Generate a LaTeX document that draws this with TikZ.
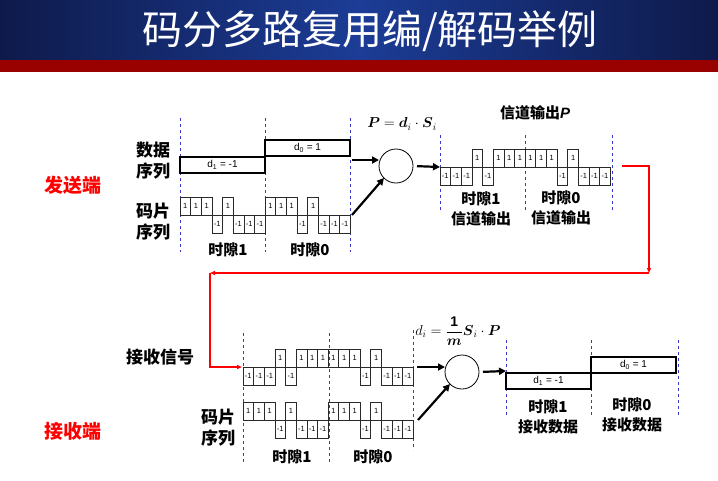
\documentclass[tikz,border=0pt]{standalone}
\usepackage{fontspec}
\usepackage{amsmath}
\setmainfont{Liberation Sans}
\newfontfamily\cjk{Noto Sans CJK SC}
\usetikzlibrary{positioning, arrows.meta, calc}
\definecolor{titleblue}{HTML}{1C3C96}
\definecolor{titlenavy}{HTML}{0E1A4A}
\definecolor{barred}{HTML}{990000}
\definecolor{slotblue}{HTML}{3A3ACC}
\definecolor{chipgray}{HTML}{2A2A2A}
\definecolor{sidered}{HTML}{FF0000}

% chip width and one row of chips: name, x, baseline, values
\newcommand\cw{10.65}
\newcommand\chiprow[4]{%
  \foreach \v [count=\k from 0] in {#4}{%
    \draw[chipbox] ({#2+\k*\cw},#3) rectangle ++(\cw,{-18*\v});
    \node[chiptxt] (#1-\k) at ({#2+(\k+0.5)*\cw},{#3-9*\v}) {\v};}}

\tikzset{
  chipbox/.style={draw=chipgray, line width=0.8pt},
  chiptxt/.style={font=\fontsize{7.5}{7.5}\selectfont, inner sep=0pt},
  databox/.style={draw, line width=1.2pt, inner sep=0pt, outer sep=0pt,
    minimum width=85pt, minimum height=16pt, anchor=north west,
    font=\fontsize{10}{10}\selectfont},
  slotline/.style={draw=slotblue, dashed, line width=0.7pt},
  lbl/.style={font={\cjk\bfseries\fontsize{15}{20}\selectfont}, align=center, inner sep=0pt},
  biglbl/.style={font={\cjk\bfseries\fontsize{17}{21}\selectfont}, align=center, inner sep=0pt},
  sidelbl/.style={font={\cjk\bfseries\fontsize{19}{21}\selectfont}, text=sidered, inner sep=0pt},
  mixer/.style={draw, circle, minimum size=34pt, line width=0.8pt, outer sep=0pt},
  bigarrow/.style={line width=2.2pt, -{Triangle[length=7pt,width=7pt]}},
  redarrow/.style={draw=sidered, line width=1.2pt, -{Triangle[length=5pt,width=4pt]}}
}

\begin{document}
\begin{tikzpicture}[x=1pt, y=-1pt]
  \useasboundingbox (0,0) rectangle (718,480);

  % title bar
  \shade[left color=titlenavy, right color=titlenavy, middle color=titleblue]
    (0,0) rectangle (718,60);
  \fill[barred] (0,60) rectangle (718,72);
  \node[font={\cjk\fontsize{40}{40}\selectfont}, text=white] (title) at (370,31)
    {码分多路复用编/解码举例};

  % ---- sender ----
  \foreach \x in {180,265,350} \draw[slotline] (\x,118) -- (\x,252);
  \foreach \x in {440,525,612} \draw[slotline] (\x,135) -- (\x,210);

  \node[databox] (d1T) at (180,157) {d\textsubscript{1} = -1};
  \node[databox] (d0T) at (265,140) {d\textsubscript{0} = 1};
  \chiprow{sT}{180}{215}{1,1,1,-1,1,-1,-1,-1,1,1,1,-1,1,-1,-1,-1}
  \chiprow{ch}{440}{167}{-1,-1,-1,1,-1,1,1,1,1,1,1,-1,1,-1,-1,-1}

  \node[biglbl] (dataT) at (153,161) {数据\\序列};
  \node[biglbl] (chipT) at (153,222) {码片\\序列};
  \node[lbl] (slot1T) at (228,250) {时隙1};
  \node[lbl] (slot0T) at (310,250) {时隙0};
  \node[sidelbl] (send) at (73,185) {发送端};

  \node[mixer] (mixT) at (396,166) {};
  \node[font=\fontsize{14}{16}\selectfont] (fmT) at (402,124)
    {$\boldsymbol{P}=\boldsymbol{d}_i\cdot\boldsymbol{S}_i$};
  \node[lbl] (outP) at (535,113) {信道输出{\fontspec{Liberation Sans}\bfseries\itshape P}};
  \node[lbl] (out1) at (481,209) {时隙1\\信道输出};
  \node[lbl] (out0) at (561,208) {时隙0\\信道输出};

  \coordinate (dT) at (352,160);
  \coordinate (sTe) at (352,215);
  \coordinate (chW) at (440,167);
  \draw[bigarrow] (dT) -- (dT -| mixT.west);
  \draw[bigarrow] (sTe) -- (mixT.south west);
  \draw[bigarrow, shorten <=4pt] (mixT.east) -- (chW);

  % channel to receiver
  \coordinate (chE) at (622,166);
  \coordinate (rc1) at (649,273);
  \coordinate (rc2) at (210,273);
  \coordinate (rxW) at (242,367);
  \draw[redarrow] (chE) -| (rc1);
  \draw[redarrow] (rc1) -- (rc2);
  \draw[redarrow] (rc2) |- (rxW);

  % ---- receiver ----
  \foreach \x in {243,329} \draw[slotline] (\x,333) -- (\x,462);
  \draw[slotline] (413,330) -- (413,450);
  \foreach \x in {506,591,678} \draw[slotline] (\x,340) -- (\x,415);

  \chiprow{rx}{243}{367}{-1,-1,-1,1,-1,1,1,1,1,1,1,-1,1,-1,-1,-1}
  \chiprow{sR}{243}{420}{1,1,1,-1,1,-1,-1,-1,1,1,1,-1,1,-1,-1,-1}

  \node[biglbl] (rxlbl) at (160,357) {接收信号};
  \node[sidelbl] (recv) at (73,431) {接收端};
  \node[biglbl] (chipR) at (218,428) {码片\\序列};
  \node[lbl] (slot1R) at (292,457) {时隙1};
  \node[lbl] (slot0R) at (373,457) {时隙0};

  \node[mixer] (mixR) at (462,372) {};
  \node[font=\fontsize{14}{16}\selectfont] (fmR) at (458,331)
    {$d_i=\dfrac{\mathbf{1}}{\boldsymbol{m}}\boldsymbol{S}_i\cdot\boldsymbol{P}$};

  \node[databox] (d1R) at (506,373) {d\textsubscript{1} = -1};
  \node[databox] (d0R) at (591,357) {d\textsubscript{0} = 1};
  \node[lbl] (res1) at (548,417) {时隙1\\接收数据};
  \node[lbl] (res0) at (632,415) {时隙0\\接收数据};

  \coordinate (rxE) at (417,367);
  \coordinate (sRe) at (418,420);
  \coordinate (outR) at (506,371);
  \draw[bigarrow] (rxE) -- (rxE -| mixR.west);
  \draw[bigarrow] (sRe) -- (mixR.south west);
  \draw[bigarrow, shorten <=4pt] (mixR.east) -- (outR);
\end{tikzpicture}
\end{document}
